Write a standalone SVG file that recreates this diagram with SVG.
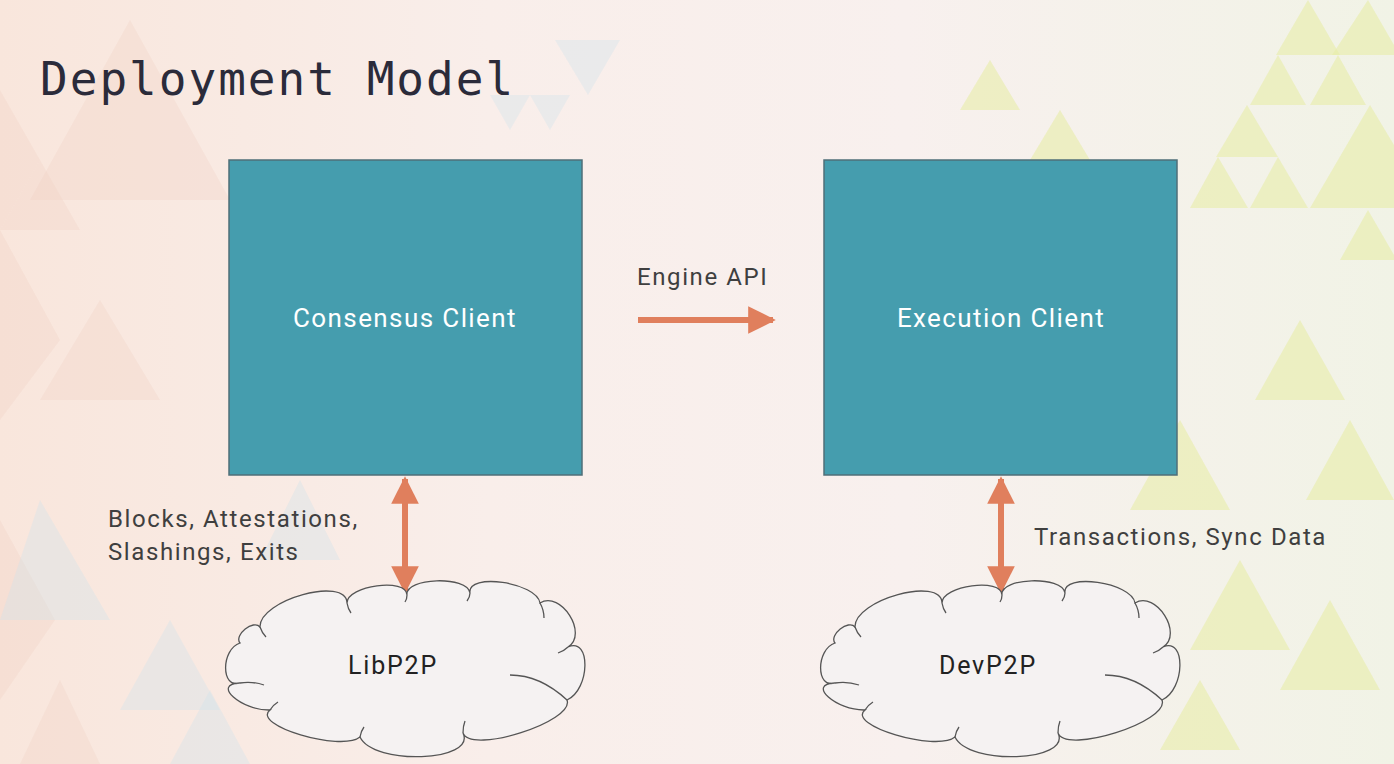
<svg xmlns="http://www.w3.org/2000/svg" width="1394" height="764" viewBox="0 0 1394 764">
<defs>
<linearGradient id="bg" x1="0" y1="0" x2="1" y2="0">
<stop offset="0" stop-color="#f9e6dc"/>
<stop offset="0.35" stop-color="#f9eeea"/>
<stop offset="0.65" stop-color="#f8f0ee"/>
<stop offset="1" stop-color="#f1f3e6"/>
</linearGradient>
<path id="cloud" d="M 32 45 C 31.2 17.8 118.2 -6.2 119 21 C 119 3.4 179 -4.6 179 13 C 176.6 -4.6 239.6 -6.6 242 11 C 238.8 -9.8 308.8 0.2 312 21 C 332.8 8.2 360.8 52.2 340 65 C 363.2 54.6 362.2 107.6 339 118 C 347 139.6 243 172.6 235 151 C 248.6 179.8 145.6 183.8 132 155 C 112.8 170.2 22.8 143.2 42 128 C 13.2 128.8 -16.8 101.8 12 101 C -7.2 107.4 -7.2 67.4 12 61 C 5.6 53 25.6 37 32 45 Z"/>
<g id="cloudDetails">
<path d="M 119 21 Q 120 27 123 31"/>
<path d="M 179 13 Q 179 17 177 20"/>
<path d="M 242 11 Q 242 15 239 19"/>
<path d="M 312 21 Q 316 28 316 36"/>
<path d="M 340 65 Q 336 69 330 71"/>
<path d="M 339 118 Q 312 93 282 93"/>
<path d="M 235 151 Q 235 144 237 139"/>
<path d="M 132 155 Q 133 149 136 145"/>
<path d="M 42 128 Q 45 123 50 120"/>
<path d="M 12 101 Q 24 99 36 103"/>
<path d="M 32 45 Q 34 51 38 55"/>
</g>
<marker id="ah" viewBox="0 0 10 10" refX="9" refY="5" markerWidth="6" markerHeight="4.6" orient="auto-start-reverse" markerUnits="strokeWidth">
<path d="M0 0 L10 5 L0 10 Z" fill="#e07f5d"/>
</marker>
</defs>
<style>
.box{fill:#459dae;stroke:#4f6f78;stroke-width:1.5}
.boxlabel{font-family:Roboto,"Liberation Sans",sans-serif;font-size:26px;fill:#ffffff;text-anchor:middle;letter-spacing:1.4px}
.lbl{font-family:Roboto,"Liberation Sans",sans-serif;font-size:24px;fill:#3f3f3f;letter-spacing:1.6px}
.cloudshape{fill:#f5f2f2;stroke:#555555;stroke-width:1.3}
.cloudinner{fill:none;stroke:#555555;stroke-width:1.3}
.cloudlabel{font-family:Roboto,"Liberation Sans",sans-serif;font-size:25px;fill:#222222;text-anchor:middle;letter-spacing:1.8px}
.conn{stroke:#e07f5d;stroke-width:6;fill:none}
.tri-p{fill:#f0cfc4;opacity:0.3}
.tri-b{fill:#cfe3ea;opacity:0.35}
.tri-y{fill:#e8eda9;opacity:0.6}
</style>
<rect x="0" y="0" width="1394" height="764" fill="url(#bg)"/>
<g id="background-pattern">
<polygon class="tri-p" points="0,90 40,160 0,230"/>
<polygon class="tri-p" points="0,230 60,340 0,420"/>
<polygon class="tri-p" points="40,160 80,230 0,230"/>
<polygon class="tri-p" points="130,20 230,200 30,200" opacity="0.15"/>
<polygon class="tri-p" points="0,520 55,620 0,700"/>
<polygon class="tri-p" points="100,300 160,400 40,400" opacity="0.2"/>
<polygon class="tri-p" points="60,680 100,764 20,764" opacity="0.2"/>
<polygon class="tri-b" points="40,500 110,620 0,620" opacity="0.2"/>
<polygon class="tri-b" points="170,620 220,710 120,710"/>
<polygon class="tri-b" points="210,690 250,764 170,764"/>
<polygon class="tri-b" points="300,480 340,560 260,560" opacity="0.25"/>
<polygon class="tri-b" points="555,40 620,40 588,95" opacity="0.35"/>
<polygon class="tri-b" points="490,95 530,95 510,130" opacity="0.3"/>
<polygon class="tri-b" points="530,95 570,95 550,130" opacity="0.3"/>
<polygon class="tri-y" points="1308,0 1340,55 1276,55"/>
<polygon class="tri-y" points="1368,0 1394,45 1394,55 1332,55"/>
<polygon class="tri-y" points="1278,55 1306,105 1250,105"/>
<polygon class="tri-y" points="1338,55 1366,105 1310,105"/>
<polygon class="tri-y" points="1247,105 1278,157 1216,157"/>
<polygon class="tri-y" points="1370,105 1394,145 1394,208 1310,208"/>
<polygon class="tri-y" points="1218,157 1248,208 1190,208"/>
<polygon class="tri-y" points="1278,157 1308,208 1250,208"/>
<polygon class="tri-y" points="1368,210 1394,255 1394,260 1340,260"/>
<polygon class="tri-y" points="1300,320 1345,400 1255,400" opacity="0.4"/>
<polygon class="tri-y" points="1350,420 1394,500 1394,500 1306,500" opacity="0.4"/>
<polygon class="tri-y" points="1180,420 1230,510 1130,510" opacity="0.3"/>
<polygon class="tri-y" points="1240,560 1290,650 1190,650" opacity="0.4"/>
<polygon class="tri-y" points="1330,600 1380,690 1280,690" opacity="0.4"/>
<polygon class="tri-y" points="1200,680 1240,750 1160,750" opacity="0.4"/>
<polygon class="tri-y" points="990,60 1020,110 960,110" opacity="0.35"/>
<polygon class="tri-y" points="1060,110 1090,160 1030,160" opacity="0.25"/>
</g>
<text id="title" x="40" y="95" font-family="'DejaVu Sans Mono','Liberation Mono',monospace" font-size="46" fill="#2b2b3a" letter-spacing="2">Deployment Model</text>
<g id="connectors">
<line class="conn" x1="638" y1="320" x2="773" y2="320" marker-end="url(#ah)"/>
<line class="conn" x1="405" y1="479" x2="405" y2="591" marker-start="url(#ah)" marker-end="url(#ah)"/>
<line class="conn" x1="1001" y1="479" x2="1001" y2="591" marker-start="url(#ah)" marker-end="url(#ah)"/>
<text class="lbl" x="637" y="285">Engine API</text>
<text class="lbl" x="108" y="527">Blocks, Attestations,</text>
<text class="lbl" x="108" y="560">Slashings, Exits</text>
<text class="lbl" x="1034" y="545">Transactions, Sync Data</text>
</g>
<g id="consensus-client">
<rect class="box" x="229" y="160" width="353" height="315"/>
<text class="boxlabel" x="405" y="327">Consensus Client</text>
</g>
<g id="execution-client">
<rect class="box" x="824" y="160" width="353" height="315"/>
<text class="boxlabel" x="1001" y="327">Execution Client</text>
</g>
<g id="libp2p" transform="translate(228,582)">
<use href="#cloud" class="cloudshape"/>
<use href="#cloudDetails" class="cloudinner"/>
<text class="cloudlabel" x="165" y="92">LibP2P</text>
</g>
<g id="devp2p" transform="translate(823,582)">
<use href="#cloud" class="cloudshape"/>
<use href="#cloudDetails" class="cloudinner"/>
<text class="cloudlabel" x="165" y="92">DevP2P</text>
</g>
</svg>
